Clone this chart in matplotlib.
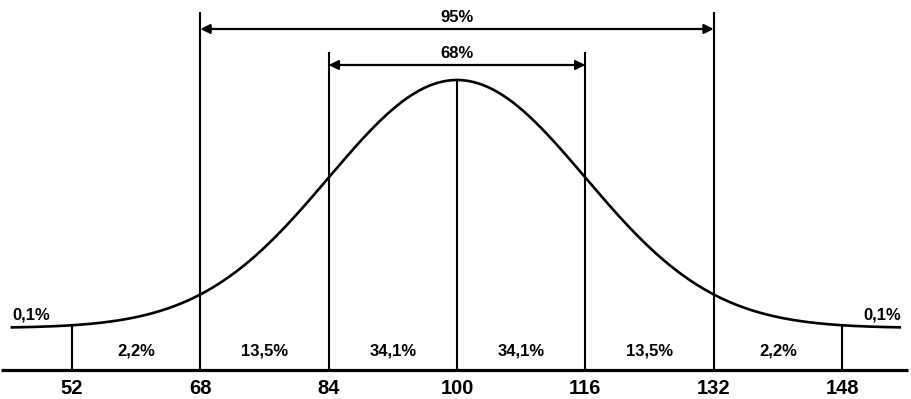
import numpy as np
import matplotlib
matplotlib.use('Agg')
import matplotlib.pyplot as plt

matplotlib.rcParams['font.family'] = ['Liberation Sans', 'DejaVu Sans']

mean = 100
sd = 16
ticks = [52, 68, 84, 100, 116, 132, 148]
band_labels = ['2,2%', '13,5%', '34,1%', '34,1%', '13,5%', '2,2%']
tail_label = '0,1%'
ranges = [(68, 132, '95%'), (84, 116, '68%')]

# curve sits above the axis line, in pixel-like units
base = 42
amp = 248


def curve(x):
    return base + amp * np.exp(-0.5 * ((x - mean) / sd) ** 2)


fig = plt.figure(figsize=(9.11, 3.99), dpi=100)
ax = fig.add_axes([0, 0, 1, 1])
ax.set_xlim(43.02, 156.6)
ax.set_ylim(-29, 370)
ax.axis('off')

xs = np.linspace(44.5, 155.2, 600)
ax.plot(xs, curve(xs), color='black', lw=1.9)

# axis line
ax.plot([43.2, 156.2], [0, 0], color='black', lw=2.3, solid_capstyle='butt')

tops = {52: curve(52), 68: 357, 84: 317, 100: curve(100), 116: 317, 132: 357, 148: curve(148)}
for t in ticks:
    ax.plot([t, t], [0, tops[t]], color='black', lw=1.5)
    ax.text(t, -18, str(t), ha='center', va='center', fontsize=14.5, fontweight='bold')

for i, lab in enumerate(band_labels):
    xm = (ticks[i] + ticks[i + 1]) / 2
    ax.text(xm, 19, lab, ha='center', va='center', fontsize=12, fontweight='bold')

ax.text(44.6, 55, tail_label, ha='left', va='center', fontsize=12, fontweight='bold')
ax.text(155.4, 55, tail_label, ha='right', va='center', fontsize=12, fontweight='bold')

arrow_y = {'95%': 341, '68%': 305}
for lo, hi, lab in ranges:
    y = arrow_y[lab]
    ax.annotate('', xy=(hi, y), xytext=(lo, y),
                arrowprops=dict(arrowstyle='<|-|>', color='black', lw=1.6,
                                mutation_scale=14, shrinkA=0, shrinkB=0))
    ax.text((lo + hi) / 2, y + 12, lab, ha='center', va='center', fontsize=12, fontweight='bold')

fig.savefig('out.png', dpi=100, facecolor='white')
